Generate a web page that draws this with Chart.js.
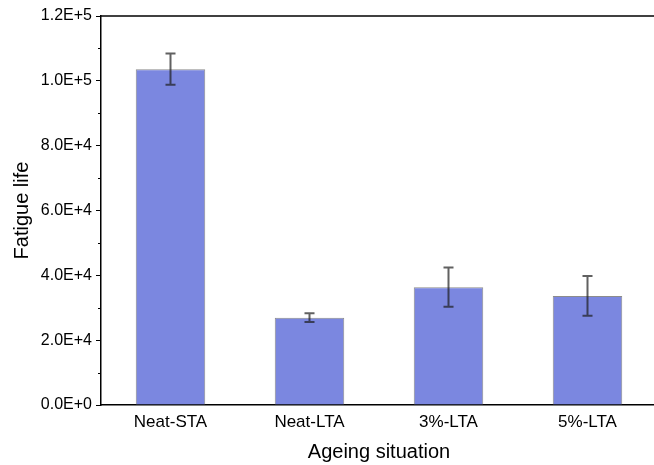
<!DOCTYPE html>
<html>
<head>
<meta charset="utf-8">
<script src="https://cdn.jsdelivr.net/npm/chart.js@4/dist/chart.umd.min.js"></script>
<style>
html,body{margin:0;padding:0;overflow:hidden;background:#fff;width:654px;height:465px;}
#c{display:block;}
</style>
</head>
<body>
<canvas id="c" width="660" height="465"></canvas>
<script>
const categories = ['Neat-STA', 'Neat-LTA', '3%-LTA', '5%-LTA'];
const fatigueLife = [103600, 26950, 36350, 33650];
const errors = [4800, 1350, 6050, 6150];
const yTicks = [0, 20000, 40000, 60000, 80000, 100000, 120000];
const yMinorTicks = [10000, 30000, 50000, 70000, 90000, 110000];

const FONT = "'Liberation Sans', Arial, sans-serif";

const frameAndExtras = {
  id: 'frameAndExtras',
  afterDatasetsDraw(chart) {
    const ctx = chart.ctx;
    const xs = chart.scales.x, ys = chart.scales.y;
    const ca = chart.chartArea;
    ctx.save();
    // error bars
    ctx.strokeStyle = 'rgba(30,30,30,0.7)';
    ctx.lineWidth = 2;
    fatigueLife.forEach((v, i) => {
      const x = xs.getPixelForValue(i);
      const yt = ys.getPixelForValue(v + errors[i]);
      const yb = ys.getPixelForValue(v - errors[i]);
      ctx.beginPath();
      ctx.moveTo(x, yt); ctx.lineTo(x, yb);
      ctx.moveTo(x - 5, yt); ctx.lineTo(x + 5, yt);
      ctx.moveTo(x - 5, yb); ctx.lineTo(x + 5, yb);
      ctx.stroke();
    });
    // top frame line
    ctx.strokeStyle = '#000';
    ctx.lineWidth = 1.5;
    ctx.beginPath();
    ctx.moveTo(ca.left, ca.top);
    ctx.lineTo(ca.right + 10, ca.top);
    ctx.stroke();
    // minor ticks
    ctx.lineWidth = 1;
    yMinorTicks.forEach(v => {
      const y = Math.round(ys.getPixelForValue(v)) + 0.5;
      ctx.beginPath();
      ctx.moveTo(ca.left - 3, y); ctx.lineTo(ca.left, y);
      ctx.stroke();
    });
    ctx.restore();
  }
};

new Chart(document.getElementById('c'), {
  type: 'bar',
  data: {
    labels: categories,
    datasets: [{
      data: fatigueLife,
      backgroundColor: '#7b87e0',
      borderColor: '#8c8c8c',
      borderWidth: 1,
      categoryPercentage: 1,
      barPercentage: 0.5
    }]
  },
  options: {
    responsive: false,
    animation: false,
    events: [],
    layout: { padding: { left: 0, right: 3, top: 16, bottom: 0 } },
    plugins: { legend: { display: false }, tooltip: { enabled: false } },
    scales: {
      x: {
        grid: { display: false, drawTicks: false },
        border: { display: true, color: '#000', width: 1.5 },
        ticks: { color: '#000', font: { family: FONT, size: 17 }, padding: 7, maxRotation: 0 },
        title: { display: true, text: 'Ageing situation', color: '#000', font: { family: FONT, size: 20 }, padding: { top: 0, bottom: 1 } },
        afterFit(s) { s.height = 60; }
      },
      y: {
        min: 0, max: 120000,
        afterBuildTicks(s) { s.ticks = yTicks.map(v => ({ value: v })); },
        grid: { drawOnChartArea: false, drawTicks: true, tickLength: 5, color: '#000', tickWidth: 1 },
        border: { display: true, color: '#000', width: 1.5 },
        ticks: {
          color: '#000', font: { family: FONT, size: 16 }, padding: 4,
          callback: v => Number(v).toExponential(1).toUpperCase()
        },
        title: { display: true, text: 'Fatigue life', color: '#000', font: { family: FONT, size: 20 }, padding: { top: 10, bottom: 0 } },
        afterFit(s) { s.width = 101; }
      }
    }
  },
  plugins: [frameAndExtras]
});
</script>
</body>
</html>
